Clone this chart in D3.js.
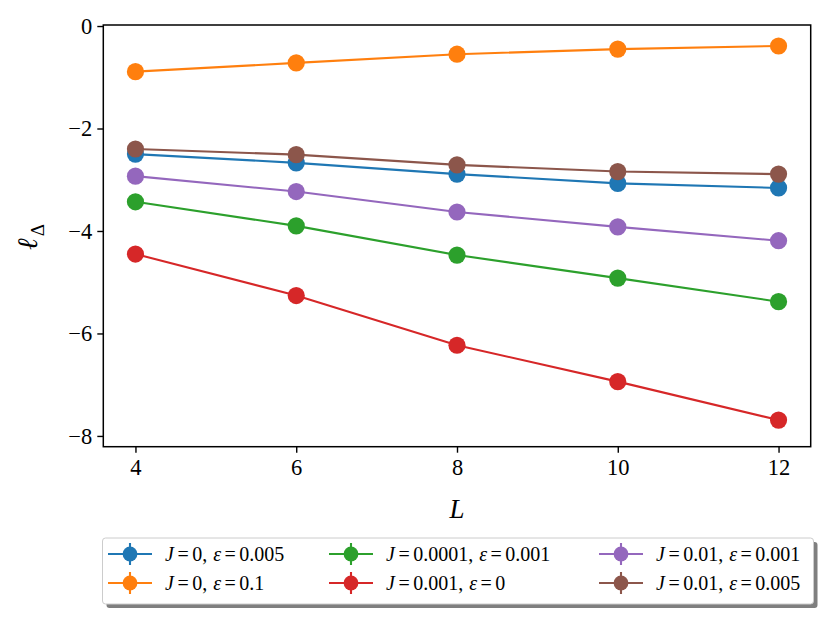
<!DOCTYPE html>
<html><head><meta charset="utf-8">
<script src="https://cdn.jsdelivr.net/npm/d3@7/dist/d3.min.js"></script>
<style>body{margin:0;background:#fff}svg{display:block}</style>
</head><body>
<svg id="c" width="831" height="623"></svg>
<script>
const L = [4, 6, 8, 10, 12];
const xTicks = [4, 6, 8, 10, 12];
const yTicks = [0, -2, -4, -6, -8];
const seriesJ = ["0", "0", "0.0001", "0.001", "0.01", "0.01"];
const seriesEps = ["0.005", "0.1", "0.001", "0", "0.001", "0.005"];
const colors = ["#1f77b4", "#ff7f0e", "#2ca02c", "#d62728", "#9467bd", "#8c564b"];
const sBlue   = [-2.50, -2.67, -2.89, -3.07, -3.16];
const sOrange = [-0.89, -0.72, -0.55, -0.45, -0.39];
const sGreen  = [-3.43, -3.90, -4.47, -4.92, -5.38];
const sRed    = [-4.45, -5.26, -6.23, -6.94, -7.69];
const sPurple = [-2.93, -3.23, -3.63, -3.92, -4.19];
const sBrown  = [-2.40, -2.51, -2.71, -2.84, -2.89];
const series = [sBlue, sOrange, sGreen, sRed, sPurple, sBrown];

const svg = d3.select("#c");
const font = "'Liberation Serif','Times New Roman',serif";
const x = d3.scaleLinear().domain([3.6, 12.4]).range([103.3, 810.7]);
const y = d3.scaleLinear().domain([-8.21, 0.02]).range([446.7, 25]);

// lines & markers
const line = d3.line().x((d,i)=>x(L[i])).y(d=>y(d));
series.forEach((s,k)=>{
  const g = svg.append("g");
  g.append("path").attr("d", line(s)).attr("fill","none").attr("stroke",colors[k]).attr("stroke-width",2.1);
  g.selectAll("circle").data(s).enter().append("circle")
    .attr("cx",(d,i)=>x(L[i])).attr("cy",d=>y(d)).attr("r",8.6).attr("fill",colors[k]);
});

// axes
const xAxis = d3.axisBottom(x).tickValues(xTicks).tickSize(6).tickPadding(6).tickFormat(d3.format("d"));
const yAxis = d3.axisLeft(y).tickValues(yTicks).tickSize(6).tickPadding(5)
  .tickFormat(d => d < 0 ? "\u2212" + Math.abs(d) : String(d));
const gx = svg.append("g").attr("transform","translate(0,446.7)").call(xAxis);
const gy = svg.append("g").attr("transform","translate(103.3,0)").call(yAxis);
[gx,gy].forEach(g=>{
  g.select(".domain").remove();
  g.selectAll(".tick line").attr("stroke","#000").attr("stroke-width",1.4);
  g.selectAll(".tick text").attr("font-family",font).attr("font-size",22.5).attr("fill","#000");
});
gx.selectAll(".tick text").attr("dy","0.71em");
// frame
svg.append("rect").attr("x",103.3).attr("y",25).attr("width",810.7-103.3).attr("height",446.7-25)
  .attr("fill","none").attr("stroke","#000").attr("stroke-width",1.5);

// axis labels
svg.append("text").attr("x",(103.3+810.7)/2).attr("y",518).attr("text-anchor","middle")
  .attr("font-family",font).attr("font-size",27).attr("font-style","italic").text("L");
const yl = svg.append("text").attr("transform","translate(37,237) rotate(-90)").attr("text-anchor","middle")
  .attr("font-family",font).attr("font-size",28);
yl.append("tspan").attr("font-style","italic").text("\u2113");
yl.append("tspan").attr("font-size",19).attr("dy",7).attr("dx",2).text("\u0394");

// legend
const lg = svg.append("g");
const bx = 102.5, by = 538, bw = 711, bh = 66;
lg.append("rect").attr("x",bx+4).attr("y",by+4).attr("width",bw).attr("height",bh).attr("rx",3).attr("fill","#7f7f7f");
lg.append("rect").attr("x",bx).attr("y",by).attr("width",bw).attr("height",bh).attr("rx",3)
  .attr("fill","#fff").attr("stroke","#cccccc").attr("stroke-width",1);
const colX = [130, 351, 621];
const rowY = [554, 583];
// column-major ordering like matplotlib ncol=3
series.forEach((s,k)=>{
  const col = Math.floor(k/2), row = k%2;
  const cx = colX[col], cy = rowY[row];
  lg.append("line").attr("x1",cx-22).attr("x2",cx+22).attr("y1",cy).attr("y2",cy).attr("stroke",colors[k]).attr("stroke-width",2.1);
  lg.append("line").attr("x1",cx).attr("x2",cx).attr("y1",cy-11).attr("y2",cy+11).attr("stroke",colors[k]).attr("stroke-width",2.1);
  lg.append("circle").attr("cx",cx).attr("cy",cy).attr("r",7.4).attr("fill",colors[k]);
  const t = lg.append("text").attr("x",cx+35).attr("y",cy+6.5).attr("font-family",font).attr("font-size",20);
  t.append("tspan").attr("font-style","italic").text("J");
  t.append("tspan").attr("dx",3.5).text("=");
  t.append("tspan").attr("dx",3.5).text(seriesJ[k] + ",");
  t.append("tspan").attr("dx",6).attr("font-style","italic").text("\u03b5");
  t.append("tspan").attr("dx",3.5).text("=");
  t.append("tspan").attr("dx",3.5).text(seriesEps[k]);
});
</script>
</body></html>
